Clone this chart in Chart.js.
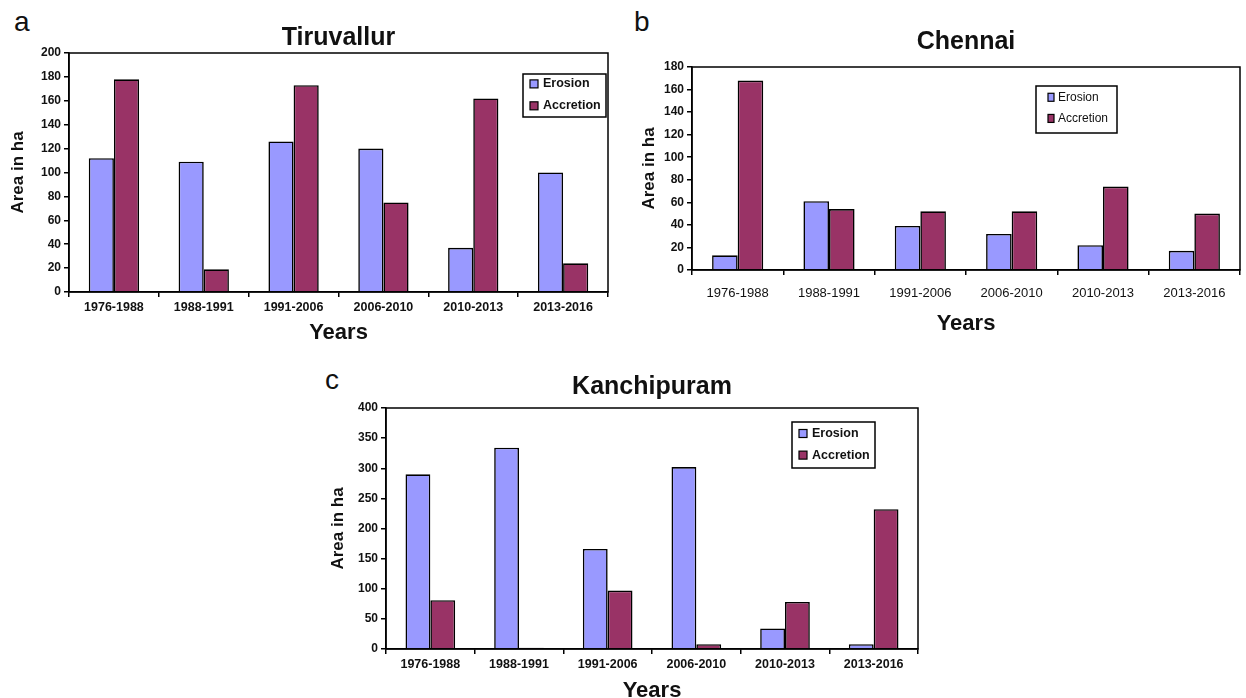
<!DOCTYPE html>
<html>
<head>
<meta charset="utf-8">
<script src="https://cdn.jsdelivr.net/npm/chart.js@4/dist/chart.umd.min.js"></script>
<style>
  body { margin: 0; background: #fff; width: 1246px; height: 698px; position: relative; overflow: hidden; font-family: "Liberation Sans", Arial, sans-serif; }
  .box { position: absolute; }
  .tag { position: absolute; font-size: 28px; line-height: 28px; color: #111; }
</style>
</head>
<body>
<div class="tag" style="left:14px;top:8px">a</div>
<div class="tag" style="left:634px;top:8px">b</div>
<div class="tag" style="left:325px;top:366px">c</div>
<div class="box" style="left:0px;top:0px;width:620px;height:346px"><canvas id="chartA"></canvas></div>
<div class="box" style="left:636px;top:0px;width:610px;height:340px"><canvas id="chartB"></canvas></div>
<div class="box" style="left:326px;top:350px;width:603px;height:357px"><canvas id="chartC"></canvas></div>
<script>
const categories = ["1976-1988", "1988-1991", "1991-2006", "2006-2010", "2010-2013", "2013-2016"];

const tiruvallurErosion = [112, 109, 126, 120, 37, 100];
const tiruvallurAccretion = [178, 19, 173, 75, 162, 24];

const chennaiErosion = [13, 61, 39, 32, 22, 17];
const chennaiAccretion = [168, 54, 52, 52, 74, 50];

const kanchipuramErosion = [290, 334, 166, 302, 34, 8];
const kanchipuramAccretion = [81, 2, 97, 8, 78, 232];

const erosionColor = "#9999ff";
const accretionColor = "#993366";
const FONT = "Liberation Sans";

// plot frame + legend box inside the chart area
const framePlugin = {
  id: "frameLegend",
  afterDatasetsDraw(chart, args, opts) {
    const { ctx, chartArea: a } = chart;
    ctx.save();
    ctx.strokeStyle = "#000";
    ctx.lineWidth = 1.5;
    ctx.strokeRect(a.left, a.top, a.right - a.left, a.bottom - a.top);

    const x = a.left + opts.dx, y = a.top + opts.dy;
    ctx.fillStyle = "#fff";
    ctx.fillRect(x, y, opts.w, opts.h);
    ctx.lineWidth = 1.5;
    ctx.strokeRect(x, y, opts.w, opts.h);
    ctx.font = opts.font;
    ctx.textBaseline = "middle";
    chart.data.datasets.forEach((ds, i) => {
      const cy = y + opts.h * opts.rows[i];
      ctx.fillStyle = ds.backgroundColor;
      ctx.fillRect(x + opts.sq, cy - 4, opts.sqw, 8);
      ctx.lineWidth = 1.2;
      ctx.strokeStyle = "#000";
      ctx.strokeRect(x + opts.sq, cy - 4, opts.sqw, 8);
      ctx.fillStyle = "#111";
      ctx.fillText(ds.label, x + opts.tx, cy);
    });
    ctx.restore();
  }
};

function makeChart(id, title, erosion, accretion, yMax, yStep, s) {
  return new Chart(document.getElementById(id), {
    type: "bar",
    data: {
      labels: categories,
      datasets: [
        { label: "Erosion", data: erosion, backgroundColor: erosionColor, borderColor: "#000", borderWidth: 1.6 },
        { label: "Accretion", data: accretion, backgroundColor: accretionColor, borderColor: "#000", borderWidth: 1.6 }
      ]
    },
    options: {
      responsive: true,
      maintainAspectRatio: false,
      animation: false,
      datasets: { bar: { barPercentage: 1, categoryPercentage: 0.56 } },
      layout: { padding: { right: s.padRight, top: 0, bottom: 0, left: 0 } },
      plugins: {
        legend: { display: false },
        tooltip: { enabled: false },
        title: {
          display: true, text: title, fullSize: false, color: "#111",
          font: { family: FONT, size: 25, weight: "bold", lineHeight: 1.2 },
          padding: { top: s.titleTop, bottom: s.titleBottom }
        },
        frameLegend: s.legend
      },
      scales: {
        x: {
          afterFit: sc => { sc.height = s.xHeight; },
          grid: { display: true, offset: true, drawOnChartArea: false, drawTicks: true, tickLength: 5, color: "#000", lineWidth: 1.5 },
          border: { display: true, color: "#000", width: 1.5 },
          ticks: { color: "#111", font: s.xFont, padding: s.xPad, maxRotation: 0 },
          title: { display: true, text: "Years", color: "#111", font: { family: FONT, size: 22, weight: "bold", lineHeight: 1.2 }, padding: { top: 0, bottom: s.yearsBottom } }
        },
        y: {
          min: 0, max: yMax,
          afterFit: sc => { sc.width = s.yWidth; },
          grid: { display: true, drawOnChartArea: false, drawTicks: true, tickLength: 5, color: "#000", lineWidth: 1.5 },
          border: { display: true, color: "#000", width: 1.5 },
          ticks: { stepSize: yStep, color: "#111", font: { family: FONT, size: 12, weight: "bold" }, padding: 3 },
          title: { display: true, text: "Area in ha", color: "#111", font: { family: FONT, size: 17, weight: "bold", lineHeight: 1.2 }, padding: { top: s.areaLeft, bottom: 0 } }
        }
      }
    },
    plugins: [framePlugin]
  });
}

makeChart("chartA", "Tiruvallur", tiruvallurErosion, tiruvallurAccretion, 200, 20, {
  padRight: 12, titleTop: 23, titleBottom: 0, xHeight: 54, yWidth: 69,
  xPad: 3, yearsBottom: 0, areaLeft: 8,
  xFont: { family: FONT, size: 12.5, weight: "bold" },
  legend: { dx: 454, dy: 21, w: 83, h: 43, rows: [0.23, 0.74], sq: 7, sqw: 8, tx: 20, font: "bold 12.5px 'Liberation Sans'" }
});

makeChart("chartB", "Chennai", chennaiErosion, chennaiAccretion, 180, 20, {
  padRight: 6, titleTop: 27, titleBottom: 10, xHeight: 70, yWidth: 56,
  xPad: 11, yearsBottom: 3, areaLeft: 3,
  xFont: { family: FONT, size: 13 },
  legend: { dx: 344, dy: 19, w: 81, h: 47, rows: [0.24, 0.69], sq: 12, sqw: 6, tx: 22, font: "12px 'Liberation Sans'" }
});

makeChart("chartC", "Kanchipuram", kanchipuramErosion, kanchipuramAccretion, 400, 50, {
  padRight: 11, titleTop: 22, titleBottom: 6, xHeight: 58, yWidth: 60,
  xPad: 3, yearsBottom: 3, areaLeft: 2,
  xFont: { family: FONT, size: 12.5, weight: "bold" },
  legend: { dx: 406, dy: 14, w: 83, h: 46, rows: [0.25, 0.72], sq: 7, sqw: 8, tx: 20, font: "bold 12.5px 'Liberation Sans'" }
});
</script>
</body>
</html>
